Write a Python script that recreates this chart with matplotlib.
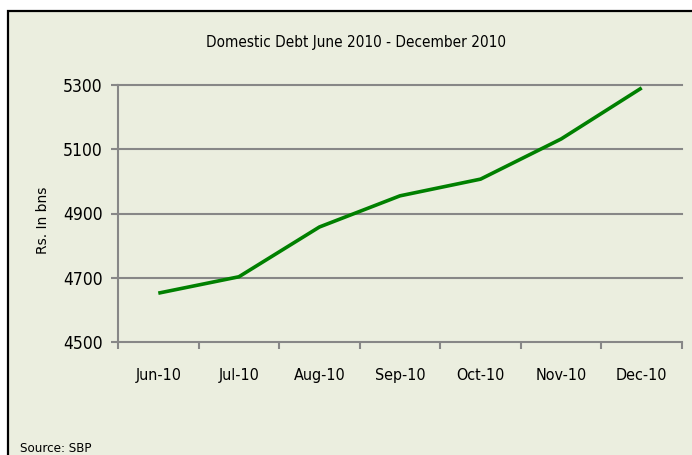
import matplotlib.pyplot as plt
from matplotlib.patches import Rectangle
from matplotlib.ticker import FixedLocator

months = ["Jun-10", "Jul-10", "Aug-10", "Sep-10", "Oct-10", "Nov-10", "Dec-10"]
debt = [4652, 4703, 4858, 4955, 5007, 5132, 5291]
yticks = [4500, 4700, 4900, 5100, 5300]

plt.rcParams['font.family'] = ['DejaVu Sans']
plt.rcParams['font.stretch'] = 'condensed'

bg = '#ebeedf'
grid = '#878787'

fig = plt.figure(figsize=(6.92, 4.55), dpi=100)
fig.patch.set_facecolor('white')
# chart area frame, runs off the right and bottom edges
fig.patches.append(Rectangle((8 / 692, -0.05), 1.2, 1 - 11 / 455 + 0.05,
                             transform=fig.transFigure, facecolor=bg,
                             edgecolor='black', linewidth=1.6, zorder=-5))

ax = fig.add_axes([118 / 692, 1 - 342 / 455, 564 / 692, 257 / 455])
ax.set_facecolor('none')

x = list(range(len(months)))
ax.plot(x, debt, color='#008000', linewidth=2.6, solid_capstyle='butt', zorder=3)

ax.set_xlim(-0.5, len(months) - 0.5)
ax.set_ylim(4500, 5300)
ax.set_yticks(yticks)
ax.set_xticks(x)
ax.set_xticklabels(months)
ax.xaxis.set_minor_locator(FixedLocator([i - 0.5 for i in range(len(months) + 1)]))

for yv in yticks[1:]:
    ax.axhline(yv, color=grid, linewidth=1.5, zorder=1, clip_on=False)

for s in ['top', 'right']:
    ax.spines[s].set_visible(False)
for s in ['left', 'bottom']:
    ax.spines[s].set_color(grid)
    ax.spines[s].set_linewidth(1.5)

ax.tick_params(axis='y', length=5, width=1.5, color=grid, labelsize=12.5, pad=6)
ax.tick_params(axis='x', which='major', length=0, labelsize=11.5, pad=19)
ax.tick_params(axis='x', which='minor', length=5, width=1.5, color=grid)

fig.text(43 / 692, 1 - 220 / 455, "Rs. In bns", rotation=90, ha='center', va='center',
         fontsize=10, fontstretch='normal')
fig.text(356 / 692, 1 - 43 / 455, "Domestic Debt June 2010 - December 2010",
         ha='center', va='center', fontsize=11)
fig.text(20 / 692, 1 - 449 / 455, "Source: SBP", ha='left', va='center', fontsize=9.5)

fig.savefig("out.png", dpi=100)
